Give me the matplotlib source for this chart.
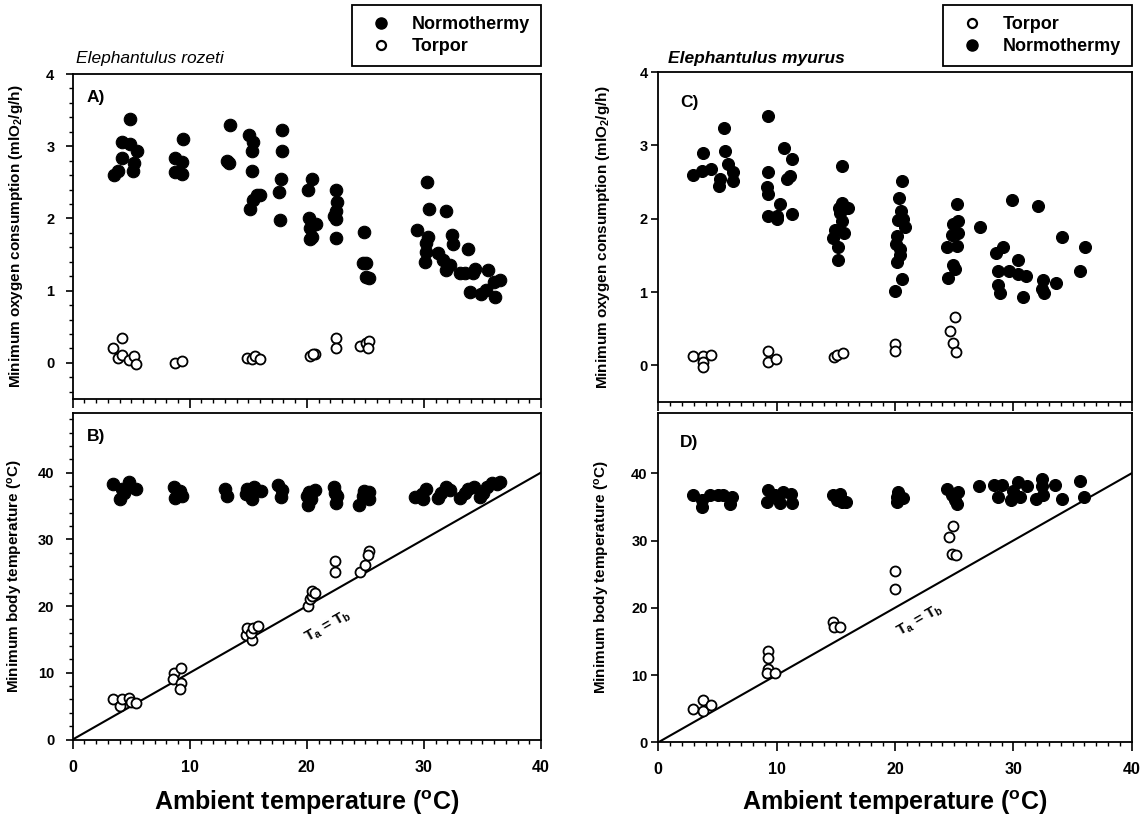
import matplotlib
matplotlib.use('Agg')
import matplotlib.pyplot as plt
from matplotlib.lines import Line2D
from matplotlib.ticker import MultipleLocator, NullFormatter, NullLocator

# ---------------- data ----------------
# Panel A: E. rozeti, minimum oxygen consumption (mlO2/g/h)
a_norm_ta = [3.57, 3.91, 4.25, 4.91, 4.91, 4.25, 5.48, 5.25, 5.14,
             9.43, 8.77, 9.34, 8.77, 9.34,
             13.4, 13.2, 13.34,
             15.05, 15.43, 15.31, 15.34, 15.77, 16.0, 15.43, 15.14,
             17.85, 17.91, 17.83, 17.63, 17.74,
             20.48, 20.14, 20.2, 20.77, 20.28, 20.48, 20.28,
             22.51, 22.57, 22.48, 22.28, 22.51, 22.48,
             24.91, 24.77, 25.05, 25.05, 25.3,
             29.43, 30.28, 30.43, 30.34, 30.14, 30.2, 30.06, 31.2, 31.9, 32.4, 32.5, 31.6, 32.2,
             31.9, 33.1, 33.5, 33.8, 34.4, 34.2, 33.9, 34.9, 35.3, 35.5, 36.0, 36.5, 36.05]
a_norm_vo2 = [2.60, 2.66, 3.06, 3.38, 3.03, 2.84, 2.94, 2.77, 2.66,
              3.10, 2.84, 2.78, 2.64, 2.62,
              3.30, 2.80, 2.77,
              3.15, 3.06, 2.93, 2.66, 2.32, 2.32, 2.25, 2.13,
              3.22, 2.93, 2.54, 2.36, 1.98,
              2.54, 2.40, 2.00, 1.92, 1.87, 1.74, 1.71,
              2.39, 2.23, 2.11, 2.03, 1.99, 1.73,
              1.81, 1.38, 1.38, 1.19, 1.18,
              1.84, 2.50, 2.13, 1.74, 1.66, 1.54, 1.40, 1.52, 2.10, 1.77, 1.64, 1.42, 1.35,
              1.29, 1.24, 1.24, 1.58, 1.30, 1.24, 0.98, 0.96, 1.01, 1.29, 1.12, 1.15, 0.91]
a_torp_ta = [4.2, 3.48, 3.83, 4.2, 4.77, 5.2, 5.42,
             8.71, 9.34,
             14.9, 15.34, 15.57, 15.97,
             20.28, 20.68, 20.5,
             22.48, 22.48,
             24.57, 25.05, 25.34, 25.2]
a_torp_vo2 = [0.35, 0.21, 0.07, 0.11, 0.04, 0.09, -0.01,
              0.0, 0.02,
              0.07, 0.05, 0.09, 0.05,
              0.09, 0.12, 0.13,
              0.35, 0.20,
              0.24, 0.27, 0.31, 0.21]

# Panel B: E. rozeti, minimum body temperature (C)
b_norm_ta = [3.43, 4.05, 4.77, 4.91, 5.43, 4.34, 4.2,
             8.63, 8.77, 9.2, 9.34,
             13.05, 13.2,
             14.9, 14.77, 15.34, 15.48, 16.05, 15.2,
             17.54, 17.77, 17.9,
             20.1, 20.05, 20.68, 20.34, 20.2,
             22.34, 22.48, 22.57, 22.4,
             24.48, 25.34, 24.77, 25.34, 24.91,
             29.25, 29.9, 30.2, 29.8, 31.2, 31.5, 31.9, 32.2, 33.1, 33.5, 33.8, 34.3,
             34.8, 35.05, 35.4, 35.8, 36.2, 36.5]
b_norm_tb = [38.3, 36.0, 38.6, 37.8, 37.6, 36.9, 37.6,
             37.9, 36.2, 37.3, 36.5,
             37.6, 36.5,
             37.5, 36.8, 36.0, 37.8, 37.3, 36.8,
             38.1, 36.3, 37.4,
             35.1, 36.5, 37.4, 36.0, 37.1,
             37.8, 35.5, 36.5, 37.0,
             35.1, 37.1, 36.5, 36.0, 37.3,
             36.3, 36.0, 37.5, 36.8, 36.2, 37.0, 37.8, 37.4, 36.2, 36.9, 37.6, 37.9,
             36.3, 37.0, 37.9, 38.5, 38.3, 38.6]
b_torp_ta = [3.43, 4.05, 4.2, 4.77, 4.97, 5.43,
             8.63, 9.25, 8.57, 9.25, 9.2,
             14.77, 14.85, 15.34, 15.26, 15.43, 15.86,
             20.1, 20.28, 20.4, 20.48, 20.68,
             22.4, 22.4,
             24.54, 24.97, 25.34, 25.26]
b_torp_tb = [6.1, 5.0, 6.1, 6.2, 5.6, 5.5,
             10.0, 10.7, 9.0, 8.5, 7.5,
             15.7, 16.7, 14.9, 15.9, 16.7, 17.0,
             20.0, 21.0, 21.5, 22.2, 21.9,
             26.8, 25.1,
             25.1, 26.1, 28.2, 27.7]

# Panel C: E. myurus, minimum oxygen consumption
c_norm_ta = [2.96, 3.72, 3.81, 4.45, 5.21, 5.16, 5.58, 5.63, 5.92, 6.29, 6.34,
             9.3, 9.3, 9.21, 9.3, 9.3, 10.0, 10.06, 10.28, 10.65, 11.27, 11.13, 10.9, 11.27,
             15.5, 14.9, 14.8, 15.16, 15.22, 15.7, 15.5, 15.3, 15.5, 16.06, 15.35,
             20.57, 20.37, 20.48, 20.29, 20.7, 20.85, 20.14, 20.08, 20.42, 20.2, 20.57, 20.0, 20.42,
             25.2, 24.93, 25.35, 25.35, 24.42, 25.2, 24.87, 25.07, 24.5, 24.8,
             27.2,
             28.54, 29.1, 28.73, 28.73, 28.87, 29.9, 29.67, 30.4, 30.4, 30.8, 31.1, 32.1,
             32.5, 32.4, 32.6, 33.6, 34.1, 35.6, 36.06]
c_norm_vo2 = [2.59, 2.65, 2.89, 2.68, 2.54, 2.45, 3.23, 2.92, 2.75, 2.64, 2.52,
              3.40, 2.64, 2.43, 2.34, 2.04, 2.04, 1.99, 2.20, 2.97, 2.81, 2.58, 2.54, 2.07,
              2.72, 1.84, 1.74, 1.61, 1.44, 1.81, 1.97, 2.15, 2.22, 2.14, 2.08,
              2.51, 2.28, 2.11, 1.98, 1.99, 1.88, 1.77, 1.66, 1.50, 1.41, 1.18, 1.02, 1.59,
              2.20, 1.93, 1.97, 1.81, 1.62, 1.63, 1.37, 1.32, 1.19, 1.78,
              1.89,
              1.53, 1.61, 1.28, 1.09, 0.98, 2.25, 1.28, 1.43, 1.25, 0.93, 1.22, 2.17,
              1.17, 1.04, 0.98, 1.12, 1.75, 1.29, 1.61]
c_torp_ta = [2.96, 3.75, 3.8, 3.8, 4.43,
             9.3, 9.24, 9.95,
             14.85, 15.07, 15.58,
             20.0, 20.0,
             25.07, 24.65, 24.87, 25.16]
c_torp_vo2 = [0.13, 0.13, 0.05, -0.02, 0.14,
              0.20, 0.04, 0.08,
              0.11, 0.14, 0.17,
              0.29, 0.19,
              0.66, 0.47, 0.31, 0.18]

# Panel D: E. myurus, minimum body temperature
d_norm_ta = [2.9, 3.67, 3.67, 4.38, 5.07, 5.5, 6.06, 6.2,
             9.24, 9.16, 9.86, 10.28, 10.56, 11.19, 11.27,
             14.8, 15.35, 15.5, 15.9, 15.07,
             20.14, 20.29, 20.7, 20.14,
             24.37, 25.07, 25.35, 25.2, 24.8,
             27.13,
             28.4, 29.03, 28.73, 29.8, 30.43, 30.0, 31.13, 30.56, 31.9, 32.4, 32.4, 32.5,
             33.5, 34.1, 35.6, 36.0]
d_norm_tb = [36.8, 35.0, 36.0, 36.7, 36.8, 36.7, 35.5, 36.5,
             37.5, 35.7, 36.7, 35.6, 37.2, 36.9, 35.6,
             36.7, 36.9, 35.7, 35.7, 36.0,
             36.5, 37.2, 36.3, 35.7,
             37.7, 36.0, 37.2, 35.5, 36.7,
             38.1,
             38.2, 38.2, 36.4, 36.0, 38.7, 37.4, 38.1, 36.5, 36.1, 39.2, 38.1, 36.7,
             38.2, 36.2, 38.8, 36.4]
d_torp_ta = [2.96, 3.75, 3.75, 4.43,
             9.24, 9.24, 9.24, 9.16, 9.86,
             14.79, 14.85, 15.35,
             20.0, 20.0,
             24.93, 24.6, 24.79, 25.16]
d_torp_tb = [4.9, 6.3, 4.7, 5.6,
             13.6, 12.6, 10.9, 10.3, 10.3,
             17.9, 17.2, 17.1,
             25.4, 22.8,
             32.2, 30.5, 28.0, 27.9]

# Ta = Tb reference line end points
ta_line = [0, 40]
tb_line = [0, 40]

species = ["Elephantulus rozeti", "Elephantulus myurus"]
panel_tags = ["A)", "B)", "C)", "D)"]
vo2_label = "Minimum oxygen consumption (mlO$_2$/g/h)"
tb_label = "Minimum body temperature ($^o$C)"
x_label = "Ambient temperature ($^o$C)"

# ---------------- style ----------------
plt.rcParams['font.family'] = ['Liberation Sans', 'DejaVu Sans']
plt.rcParams['font.weight'] = 'bold'
plt.rcParams['mathtext.fontset'] = 'custom'
plt.rcParams['mathtext.rm'] = 'Liberation Sans:bold'
plt.rcParams['mathtext.bf'] = 'Liberation Sans:bold'
plt.rcParams['mathtext.it'] = 'Liberation Sans:italic:bold'
plt.rcParams['mathtext.default'] = 'bf'

W, H = 1145, 825
fig = plt.figure(figsize=(W / 100, H / 100), dpi=100)


def px_axes(left, right, top, bottom):
    return fig.add_axes([left / W, 1 - bottom / H, (right - left) / W, (bottom - top) / H])


axA = px_axes(72.7, 541, 74, 399)
axB = px_axes(72.7, 541, 412.5, 739.5)
axC = px_axes(658.3, 1131.7, 72, 402)
axD = px_axes(658.3, 1131.7, 412.7, 742.3)

FILL_MS = 9.0
OPEN_MS = 7.2


def draw(ax, nx, ny, tx, ty, fill_ms, open_ms):
    ax.plot(nx, ny, ls='none', marker='o', ms=fill_ms, mfc='black', mec='black', mew=0.8, zorder=3)
    ax.plot(tx, ty, ls='none', marker='o', ms=open_ms, mfc='white', mec='black', mew=1.3, zorder=4)


def style(ax, ylim, yticks, yminor, ypad, xlabels):
    ax.set_xlim(0, 40)
    ax.set_ylim(*ylim)
    ax.set_yticks(yticks)
    ax.xaxis.set_major_locator(MultipleLocator(10))
    ax.xaxis.set_minor_locator(MultipleLocator(1))
    if yminor:
        ax.yaxis.set_minor_locator(MultipleLocator(yminor))
    else:
        ax.yaxis.set_minor_locator(NullLocator())
    for s in ax.spines.values():
        s.set_linewidth(1.3)
    ax.tick_params(axis='x', which='major', direction='out', length=6.5, width=1.2,
                   labelsize=11.5, pad=8, top=False)
    ax.tick_params(axis='x', which='minor', direction='out', length=3.2, width=1.0, top=False)
    ax.tick_params(axis='y', which='major', direction='out', length=5.2, width=1.2,
                   labelsize=10.5, pad=ypad, right=False)
    ax.tick_params(axis='y', which='minor', direction='out', length=3.0, width=1.0, right=False)
    if not xlabels:
        ax.xaxis.set_major_formatter(NullFormatter())


draw(axA, a_norm_ta, a_norm_vo2, a_torp_ta, a_torp_vo2, FILL_MS, OPEN_MS)
draw(axB, b_norm_ta, b_norm_tb, b_torp_ta, b_torp_tb, FILL_MS, OPEN_MS)
draw(axC, c_norm_ta, c_norm_vo2, c_torp_ta, c_torp_vo2, 8.6, OPEN_MS)
draw(axD, d_norm_ta, d_norm_tb, d_torp_ta, d_torp_tb, 8.6, OPEN_MS)

style(axA, (-0.5, 4), [0, 1, 2, 3, 4], 0.2, 8, False)
style(axB, (0, 49), [0, 10, 20, 30, 40], 2, 8, True)
style(axC, (-0.5, 4), [0, 1, 2, 3, 4], None, 2.5, False)
style(axD, (0, 49), [0, 10, 20, 30, 40], None, 2.5, True)

for ax, (tx, ty) in zip([axB, axD], [(21.8, 16.9), (22.1, 18.2)]):
    ax.plot(ta_line, tb_line, color='black', lw=1.5, zorder=2)
    ax.text(tx, ty, "T$_a$ = T$_b$", rotation=29.7, ha='center', va='center',
            fontsize=11, rotation_mode='anchor')

# panel tags
for ax, tag, dx, dy in [(axA, panel_tags[0], 14, 16), (axB, panel_tags[1], 14, 16),
                        (axC, panel_tags[2], 22, 23), (axD, panel_tags[3], 22, 22)]:
    bb = ax.get_position()
    fig.text(bb.x0 + dx / W, bb.y1 - dy / H, tag, ha='left', va='top', fontsize=12.5,
             fontweight='bold')

# y labels
for ax, lab, x in [(axA, vo2_label, -0.102), (axB, tb_label, -0.102),
                   (axC, vo2_label, -0.098), (axD, tb_label, -0.098)]:
    ax.set_ylabel(lab, fontsize=11, fontweight='bold')
    ax.yaxis.set_label_coords(x, 0.5)

# x labels
fig.text(307 / W, 1 - 803 / H, x_label, ha='center', va='center', fontsize=18, fontweight='bold')
fig.text(895 / W, 1 - 803 / H, x_label, ha='center', va='center', fontsize=18, fontweight='bold')

# species titles
fig.text(76 / W, 1 - 63 / H, species[0], ha='left', va='baseline', fontsize=12.5,
         fontstyle='italic', fontweight='normal')
fig.text(668 / W, 1 - 63 / H, species[1], ha='left', va='baseline', fontsize=12.5,
         fontstyle='italic', fontweight='bold')

# legends
h_norm = Line2D([], [], ls='none', marker='o', ms=8, mfc='black', mec='black')
h_torp = Line2D([], [], ls='none', marker='o', ms=6.5, mfc='white', mec='black', mew=1.6)
leg_kw = dict(loc='upper right', frameon=True, fancybox=False, edgecolor='black', framealpha=1,
              prop={'weight': 'bold', 'size': 13}, handlelength=2.0, handletextpad=0.7,
              borderpad=0.6, labelspacing=0.3, borderaxespad=0)
leg1 = fig.legend([h_norm, h_torp], ['Normothermy', 'Torpor'],
                  bbox_to_anchor=(541 / W, 1 - 5 / H), **leg_kw)
leg1.get_frame().set_linewidth(1.3)
leg2 = fig.legend([h_torp, h_norm], ['Torpor', 'Normothermy'],
                  bbox_to_anchor=(1132 / W, 1 - 5 / H), **leg_kw)
leg2.get_frame().set_linewidth(1.3)

fig.savefig('out.png', dpi=100)
